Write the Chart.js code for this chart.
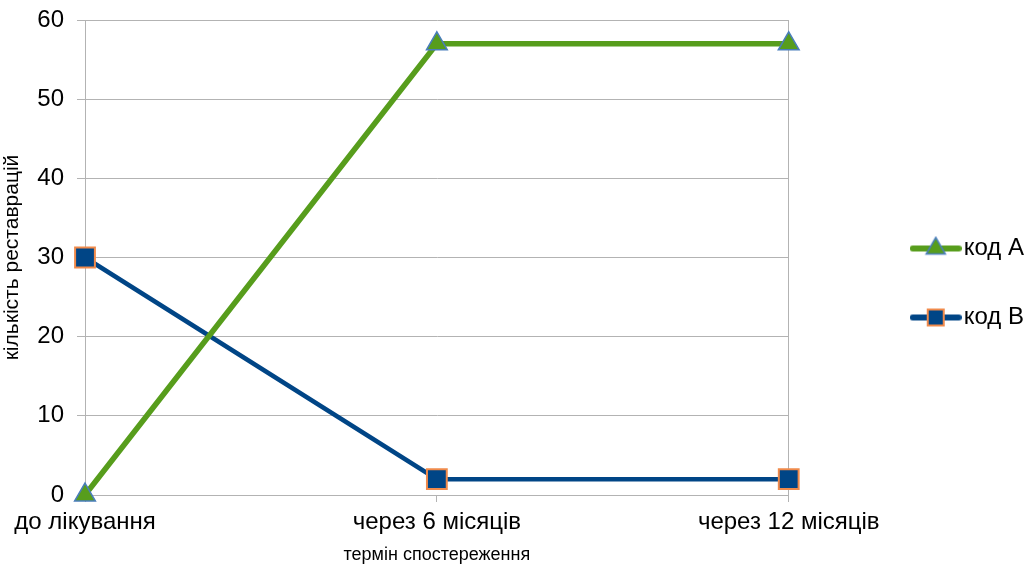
<!DOCTYPE html>
<html>
<head>
<meta charset="utf-8">
<script src="https://cdn.jsdelivr.net/npm/chart.js@4/dist/chart.umd.min.js"></script>
<style>
  html, body { margin: 0; padding: 0; background: #fff; }
  #wrap { width: 1029px; height: 566px; }
</style>
</head>
<body>
<div id="wrap"><canvas id="myChart"></canvas></div>
<script>
const termin = ['до лікування', 'через 6 місяців', 'через 12 місяців'];
const kodA = [0, 57, 57];
const kodB = [30, 2, 2];
const yTicks = [0, 10, 20, 30, 40, 50, 60];

const grafik = document.querySelector('#myChart');
const sirij = '#b3b3b3';

// маленька картинка для легенди: лінія + маркер
const legendIcon = (color, lineW, style, fill, stroke, strokeW, r) => {
    const c = document.createElement('canvas');
    c.width = 52;
    c.height = 26;
    const g = c.getContext('2d');
    g.strokeStyle = color;
    g.lineWidth = lineW;
    g.lineCap = 'round';
    g.beginPath();
    g.moveTo(3, 13);
    g.lineTo(49, 13);
    g.stroke();
    g.fillStyle = fill;
    g.strokeStyle = stroke;
    g.lineWidth = strokeW;
    g.beginPath();
    if (style === 'triangle') {
        g.moveTo(26, 13 - r);
        g.lineTo(26 + r * 0.87, 13 + r * 0.5);
        g.lineTo(26 - r * 0.87, 13 + r * 0.5);
        g.closePath();
    } else {
        g.rect(26 - r, 13 - r, 2 * r, 2 * r);
    }
    g.fill();
    g.stroke();
    return c;
};

const icons = [
    legendIcon('#579d1c', 6, 'triangle', '#579d1c', '#4a7ebb', 1.5, 11),
    legendIcon('#004586', 6, 'rect', '#004586', '#f08a4b', 2, 8)
];

new Chart(grafik, {
    type: 'line',
    data: {
        labels: termin,
        datasets: [{
            label: 'код А',
            data: kodA,
            borderColor: '#579d1c',
            borderWidth: 5.5,
            backgroundColor: '#579d1c',
            pointStyle: 'triangle',
            pointRadius: 12,
            pointHoverRadius: 12,
            pointBackgroundColor: '#579d1c',
            pointBorderColor: '#4a7ebb',
            pointBorderWidth: 1.5,
            tension: 0,
            clip: false
        }, {
            label: 'код В',
            data: kodB,
            borderColor: '#004586',
            borderWidth: 4.5,
            backgroundColor: '#004586',
            pointStyle: 'rect',
            pointRadius: 14,
            pointHoverRadius: 14,
            pointBackgroundColor: '#004586',
            pointBorderColor: '#f08a4b',
            pointBorderWidth: 2,
            tension: 0,
            clip: false
        }]
    },
    options: {
        responsive: true,
        maintainAspectRatio: false,
        animation: false,
        layout: {
            padding: { top: 0, right: -5, bottom: 0, left: 0 }
        },
        scales: {
            x: {
                offset: false,
                afterFit: s => { s.height = 71; },
                grid: {
                    drawOnChartArea: false,
                    tickLength: 7,
                    color: sirij,
                    tickColor: sirij
                },
                border: { display: true, color: sirij },
                ticks: {
                    color: '#000',
                    padding: 6,
                    maxRotation: 0,
                    autoSkip: false,
                    font: { family: 'Liberation Sans', size: 24 }
                },
                title: {
                    display: true,
                    text: 'термін спостереження',
                    color: '#000',
                    padding: { top: 6, bottom: 0 },
                    font: { family: 'Liberation Sans', size: 18 }
                }
            },
            y: {
                min: 0,
                max: 60,
                afterBuildTicks: s => { s.ticks = yTicks.map(v => ({ value: v })); },
                afterFit: s => { s.width = 85; s.paddingTop = 20; },
                grid: {
                    color: sirij,
                    tickLength: 8
                },
                border: { display: true, color: sirij },
                ticks: {
                    color: '#000',
                    padding: 13,
                    font: { family: 'Liberation Sans', size: 24 }
                },
                title: {
                    display: true,
                    text: 'кількість реставрацій',
                    color: '#000',
                    padding: { top: 0, bottom: 4 },
                    font: { family: 'Liberation Sans', size: 21 }
                }
            },
            y2: {
                position: 'right',
                display: true,
                grid: { drawOnChartArea: false, drawTicks: false },
                border: { display: true, color: sirij },
                ticks: { display: false },
                afterFit: s => { s.width = 86; }
            }
        },
        plugins: {
            tooltip: { enabled: false },
            legend: {
                position: 'right',
                labels: {
                    usePointStyle: true,
                    pointStyleWidth: 32,
                    padding: 45,
                    color: '#000',
                    font: { family: 'Liberation Sans', size: 24 },
                    generateLabels: chart => chart.data.datasets.map((ds, i) => ({
                        text: ds.label,
                        pointStyle: icons[i],
                        fillStyle: ds.backgroundColor,
                        strokeStyle: ds.borderColor,
                        lineWidth: 0,
                        hidden: false,
                        datasetIndex: i,
                        fontColor: '#000'
                    }))
                }
            }
        }
    }
});
</script>
</body>
</html>
